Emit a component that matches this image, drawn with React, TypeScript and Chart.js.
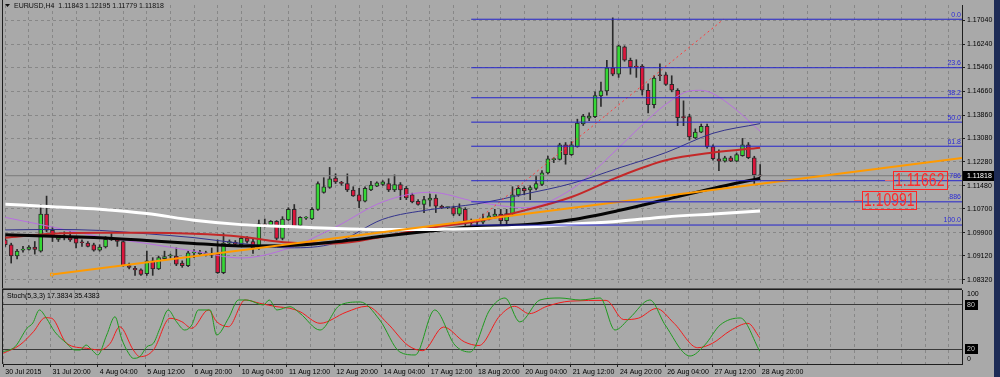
import React, { useEffect, useRef } from 'react';
import { Chart, registerables } from 'chart.js';

Chart.register(...registerables);

const FONT = '"Liberation Sans", "DejaVu Sans", sans-serif';

// ---------- price data (H4 bars, index 0 = 30 Jul 12:00) ----------
const candleOpen = [
  1.09661, 1.09498, 1.09118, 1.09313, 1.09336, 1.09421, 1.09281, 1.10525, 1.09986, 1.09680,
  1.09768, 1.09768, 1.09714, 1.09573, 1.09550, 1.09498, 1.09313, 1.09421, 1.09661, 1.09661,
  1.09606, 1.08793, 1.08706, 1.08653, 1.08523, 1.08956, 1.08686, 1.09031, 1.09118, 1.09118,
  1.08881, 1.08793, 1.09225, 1.09193, 1.09150, 1.09203, 1.09203, 1.08556, 1.09550, 1.09583,
  1.09498, 1.09714, 1.09606, 1.09388, 1.10200, 1.10168, 1.10288, 1.09714, 1.10330, 1.10688,
  1.10148, 1.10395, 1.10363, 1.10688, 1.11253, 1.11426, 1.11741, 1.11566, 1.11556, 1.11338,
  1.11175, 1.10961, 1.11338, 1.11468, 1.11523, 1.11556, 1.11338, 1.11523, 1.11393, 1.11175,
  1.10961, 1.10850, 1.10993, 1.11068, 1.10785, 1.10743, 1.10743, 1.10525, 1.10688, 1.10256,
  1.10256, 1.10256, 1.10363, 1.10450, 1.10525, 1.10311, 1.10525, 1.11175, 1.11393, 1.11338,
  1.11393, 1.11523, 1.11913, 1.12360, 1.12368, 1.12855, 1.12530, 1.12798, 1.13557, 1.13752,
  1.13804, 1.14499, 1.14671, 1.15450, 1.15232, 1.16154, 1.15700, 1.15504, 1.15504, 1.14693,
  1.14206, 1.15212, 1.15212, 1.14888, 1.14693, 1.13793, 1.13804, 1.13090, 1.13285, 1.13480,
  1.12798, 1.12388, 1.12310, 1.12420, 1.12310, 1.12495, 1.12855, 1.12422, 1.11843,
];
const candleHigh = [
  1.09768, 1.09550, 1.09346, 1.09443, 1.09466, 1.09606, 1.10850, 1.11133, 1.10093, 1.09791,
  1.09931, 1.09931, 1.09768, 1.09661, 1.09606, 1.09550, 1.09498, 1.09768, 1.09875, 1.09714,
  1.09628, 1.08881, 1.08771, 1.08686, 1.09281, 1.09063, 1.09118, 1.09281, 1.09183, 1.09388,
  1.08956, 1.09281, 1.09335, 1.09313, 1.09281, 1.09388, 1.09661, 1.09875, 1.09661, 1.09638,
  1.09746, 1.09768, 1.09714, 1.10330, 1.10363, 1.10311, 1.10311, 1.10441, 1.10743, 1.10850,
  1.10441, 1.10441, 1.10743, 1.11611, 1.11751, 1.12098, 1.11881, 1.11630, 1.11881, 1.11448,
  1.11393, 1.11448, 1.11630, 1.11611, 1.11653, 1.11718, 1.11848, 1.11588, 1.11458, 1.11231,
  1.11013, 1.11123, 1.11198, 1.11175, 1.10830, 1.10775, 1.10798, 1.10873, 1.10743, 1.10363,
  1.10330, 1.10525, 1.10580, 1.10688, 1.10688, 1.10688, 1.11448, 1.11481, 1.11448, 1.11481,
  1.11825, 1.11988, 1.12476, 1.12422, 1.12911, 1.12933, 1.12965, 1.13720, 1.13882, 1.13934,
  1.14639, 1.14963, 1.15700, 1.17127, 1.16206, 1.16186, 1.15774, 1.15719, 1.15557, 1.14906,
  1.15180, 1.15580, 1.15287, 1.15180, 1.14745, 1.14336, 1.13882, 1.13395, 1.13557, 1.13557,
  1.12855, 1.12693, 1.12473, 1.12473, 1.12585, 1.13073, 1.12933, 1.12473, 1.12195,
];
const candleLow = [
  1.09443, 1.08881, 1.09021, 1.09248, 1.09313, 1.09183, 1.09248, 1.09931, 1.09606, 1.09606,
  1.09661, 1.09606, 1.09388, 1.09443, 1.09421, 1.09281, 1.09281, 1.09388, 1.09638, 1.09443,
  1.08771, 1.08686, 1.08468, 1.08468, 1.08468, 1.08468, 1.08663, 1.08988, 1.09053, 1.08793,
  1.08738, 1.08761, 1.09063, 1.09150, 1.09118, 1.09063, 1.08533, 1.08523, 1.09531, 1.09486,
  1.09476, 1.09550, 1.09206, 1.09336, 1.10093, 1.10116, 1.09661, 1.09661, 1.10311, 1.10070,
  1.10116, 1.10353, 1.10343, 1.10655, 1.11231, 1.11393, 1.11556, 1.11500, 1.11285, 1.11123,
  1.10743, 1.10938, 1.11318, 1.11448, 1.11490, 1.11285, 1.11285, 1.11013, 1.11013, 1.10906,
  1.10830, 1.10580, 1.10798, 1.10580, 1.10710, 1.10710, 1.10473, 1.10473, 1.10148, 1.10148,
  1.10148, 1.10200, 1.10330, 1.10418, 1.10148, 1.10148, 1.10473, 1.11123, 1.11175, 1.11013,
  1.11338, 1.11481, 1.11881, 1.12260, 1.12346, 1.12206, 1.12498, 1.12778, 1.13505, 1.13668,
  1.13771, 1.14151, 1.14531, 1.15180, 1.15125, 1.15667, 1.15232, 1.15125, 1.14531, 1.13933,
  1.14097, 1.15018, 1.14855, 1.14639, 1.13502, 1.13502, 1.13014, 1.13068, 1.13264, 1.12746,
  1.12343, 1.11985, 1.12278, 1.12291, 1.12291, 1.12473, 1.12390, 1.11523, 1.11779,
];
const candleClose = [
  1.09498, 1.09118, 1.09281, 1.09355, 1.09421, 1.09336, 1.10525, 1.09986, 1.09768, 1.09736,
  1.09778, 1.09661, 1.09550, 1.09565, 1.09443, 1.09313, 1.09421, 1.09680, 1.09693, 1.09606,
  1.08793, 1.08738, 1.08653, 1.08501, 1.08956, 1.08686, 1.09063, 1.09096, 1.09125, 1.08848,
  1.08793, 1.09225, 1.09230, 1.09248, 1.09225, 1.09150, 1.08556, 1.09550, 1.09606, 1.09518,
  1.09714, 1.09606, 1.09388, 1.10200, 1.10116, 1.10288, 1.09714, 1.10363, 1.10688, 1.10093,
  1.10418, 1.10400, 1.10688, 1.11556, 1.11448, 1.11718, 1.11611, 1.11561, 1.11338, 1.11143,
  1.10961, 1.11393, 1.11500, 1.11578, 1.11611, 1.11338, 1.11523, 1.11338, 1.11068, 1.10938,
  1.10850, 1.11013, 1.11068, 1.10798, 1.10743, 1.10748, 1.10525, 1.10743, 1.10288, 1.10250,
  1.10288, 1.10363, 1.10473, 1.10525, 1.10311, 1.10548, 1.11175, 1.11393, 1.11305, 1.11416,
  1.11556, 1.11913, 1.12390, 1.12368, 1.12855, 1.12530, 1.12855, 1.13590, 1.13826, 1.13826,
  1.14509, 1.14671, 1.15450, 1.15232, 1.16186, 1.15700, 1.15472, 1.15472, 1.14693, 1.14206,
  1.15102, 1.15180, 1.14888, 1.14693, 1.13771, 1.13771, 1.13122, 1.13285, 1.13480, 1.12798,
  1.12388, 1.12310, 1.12420, 1.12310, 1.12528, 1.12855, 1.12422, 1.11843, 1.11818,
];

// moving averages: [bar index, price]
const maWhite = [
  [0, 1.10857], [8, 1.10776], [16, 1.10694], [24, 1.10548], [32, 1.1032], [40, 1.10174],
  [48, 1.10109], [56, 1.10044], [64, 1.10012], [72, 1.10012], [80, 1.10044], [88, 1.10093],
  [96, 1.1019], [104, 1.10288], [112, 1.10434], [120, 1.10532], [128, 1.10629],
];
const maBlack = [
  [0, 1.09833], [8, 1.09784], [16, 1.09736], [24, 1.09638], [32, 1.09541], [40, 1.09459],
  [48, 1.0947], [56, 1.096], [64, 1.0978], [72, 1.0996], [80, 1.1011], [88, 1.1017],
  [96, 1.10337], [104, 1.10646], [112, 1.11019], [120, 1.11393], [128, 1.11734],
];
const maRed = [
  [0, 1.09736], [8, 1.09866], [16, 1.09898], [24, 1.09898], [32, 1.09866], [40, 1.09768],
  [48, 1.09573], [56, 1.09541], [64, 1.09768], [72, 1.10061], [80, 1.10288], [88, 1.10646],
  [96, 1.11101], [104, 1.11783], [112, 1.12336], [120, 1.12596], [128, 1.12758],
];
const maNavy = [
  [0, 1.09996], [8, 1.10012], [16, 1.09979], [24, 1.09866], [32, 1.09736], [40, 1.09541],
  [48, 1.09394], [56, 1.09557], [64, 1.10353], [72, 1.10678], [80, 1.10873], [88, 1.11198],
  [96, 1.11556], [104, 1.12076], [112, 1.12596], [120, 1.13246], [128, 1.13571],
];
const maPurple = [
  [0, 1.10418], [8, 1.10093], [16, 1.09768], [24, 1.09541], [32, 1.09281], [40, 1.09053],
  [48, 1.09378], [56, 1.10093], [64, 1.10938], [72, 1.11263], [80, 1.10938], [88, 1.10743],
  [96, 1.11361], [104, 1.12758], [107.7, 1.13473], [112, 1.1422], [116.2, 1.14675],
  [117.9, 1.14691], [120, 1.14578], [123.8, 1.14058], [128, 1.1331],
];

// stochastic (5,3,3): [bar index, value]
const stochK = [
  [0, 16.6], [2, 23.4], [4, 48.2], [5, 55.4], [6.1, 73], [7.3, 61.8], [8.7, 43.6], [10.7, 28],
  [12.1, 18.9], [13, 18.9], [14, 25.7], [15, 18.9], [16, 12.2], [17.5, 39.2], [18.9, 63.9],
  [20, 34.7], [21.2, 14.5], [22, 7.7], [23.1, 9.9], [24.3, 23.4], [25.4, 28], [26.5, 48.2],
  [27.9, 73], [29.3, 57.2], [30.7, 45.9], [31.9, 52.7], [33, 73], [35, 73], [36.1, 39.2],
  [38.1, 61.8], [39.8, 86.5], [41.2, 86.5], [44, 79.7], [45, 86.5], [46.3, 73], [48.5, 77.4],
  [50.2, 68.5], [53.6, 45.9], [57, 79.7], [60.4, 83.8], [63.7, 59.5], [67.1, 16.2],
  [69.7, 12.2], [73, 73], [76.4, 25.7], [79, 16.2], [82.3, 73], [84.9, 89.2], [87.4, 56.8],
  [90.8, 86.5], [94.2, 89.2], [97.6, 86.5], [101, 89.2], [103.5, 45.9], [106, 62.2],
  [109.4, 86.5], [112, 52.7], [116.2, 10.8], [118.7, 25.7], [121.3, 52.7], [124.7, 62.2],
  [128, 17.38],
];
const stochD = [
  [0, 14.5], [2.8, 25.7], [5.1, 43.6], [7.1, 62.6], [8.2, 61.8], [10.7, 28], [14.1, 21.2],
  [16.4, 18.9], [18.1, 28], [19.7, 50.4], [22, 18.9], [23.1, 9.9], [25.4, 18.9], [28.2, 61.8],
  [30.2, 57.2], [31.9, 48.2], [34.7, 73], [36.1, 57.2], [38.1, 50.4], [40.9, 86.5], [43.4, 82],
  [46.3, 77.4], [48.5, 75.3], [50.2, 70.7], [53.6, 55], [58, 70], [61.5, 78], [65, 55],
  [68.5, 25], [71, 18], [74.5, 50], [78, 30], [80.5, 25], [84, 65], [86.5, 78], [89, 68],
  [92, 78], [96, 85], [102, 86], [105, 60], [107.5, 62], [110.5, 75], [113.5, 55],
  [117.5, 22], [120, 28], [123, 45], [126, 55], [128, 35.44],
];
const stochLevels = [20, 80];

// axes
const timeLabelBars = [0, 8, 16, 24, 32, 40, 48, 56, 64, 72, 80, 88, 96, 104, 112, 120, 128];
const timeLabels = [
  '30 Jul 2015', '31 Jul 20:00', '4 Aug 04:00', '5 Aug 12:00', '6 Aug 20:00', '10 Aug 04:00',
  '11 Aug 12:00', '12 Aug 20:00', '14 Aug 04:00', '17 Aug 12:00', '18 Aug 20:00', '20 Aug 04:00',
  '21 Aug 12:00', '24 Aug 20:00', '26 Aug 04:00', '27 Aug 12:00', '28 Aug 20:00',
];
const gridBars = Array.from({ length: 41 }, (_, k) => k * 4);
const priceTicks = [1.1704, 1.1624, 1.1546, 1.1466, 1.1386, 1.1308, 1.1228, 1.1148, 1.107, 1.099, 1.0912, 1.0832];

// objects
const fibLevels = [1.1708, 1.1545, 1.1444, 1.1362, 1.1281, 1.1165, 1.1094, 1.1016];
const fibNames = ['0.0', '23.6', '38.2', '50.0', '61.8', '786', '886', '100.0'];
const fibStartBar = 79;
const fibTrend = [[79, 1.1016], [121.8, 1.1708]];
const orangeTrend = [[7.9, 1.08494], [162.2, 1.12415]];
const bidPrice = 1.11818;
const noteTexts = ['1.11662', '1.10991'];
const notePrices = [1.11662, 1.10991];
const noteBars = [150.5, 145.3];
const titleText = 'EURUSD,H4  1.11843 1.12195 1.11779 1.11818';
const stochTitle = 'Stoch(5,3,3) 17.3834 35.4383';

// layout constants
const X_MIN = -0.05;
const X_MAX = 162.22;
const Y_MIN = 1.08211;
const Y_MAX = 1.17559;
const BG = '#a9a9a9';
const GRID = '#878787';
const AXIS = '#1e1e1e';

const pts = (arr: number[][]) => arr.map(([x, y]) => ({ x, y }));

const mainOverlay = {
  id: 'mainOverlay',
  afterDraw(chart: any) {
    const { ctx, chartArea, scales } = chart;
    const y = scales.y;
    const x = scales.x;
    ctx.save();
    ctx.fillStyle = AXIS;
    ctx.fillRect(2, 0, 1, chart.height);
    // title
    ctx.beginPath();
    ctx.moveTo(5, 4);
    ctx.lineTo(10, 4);
    ctx.lineTo(7.5, 7);
    ctx.closePath();
    ctx.fillStyle = '#111';
    ctx.fill();
    ctx.font = `7px ${FONT}`;
    ctx.textBaseline = 'middle';
    ctx.textAlign = 'left';
    ctx.fillText(titleText, 14, 6);
    // fib labels
    ctx.fillStyle = '#2b2bd6';
    ctx.textAlign = 'right';
    ctx.textBaseline = 'bottom';
    fibLevels.forEach((v, k) => {
      ctx.fillText(fibNames[k], chartArea.right - 1, y.getPixelForValue(v) - 1);
    });
    // notes
    notePrices.forEach((p, k) => {
      const py = Math.round(y.getPixelForValue(p));
      const bx = Math.round(x.getPixelForValue(noteBars[k]));
      ctx.strokeStyle = '#e06a6a';
      ctx.lineWidth = 1;
      ctx.beginPath();
      ctx.moveTo(bx - 8, py + 0.5);
      ctx.lineTo(bx, py + 0.5);
      ctx.stroke();
      ctx.strokeStyle = '#ff2424';
      ctx.strokeRect(bx + 0.5, py - 9 + 0.5, 54, 18);
      ctx.save();
      ctx.translate(bx + 2, py + 1);
      ctx.scale(0.775, 1);
      ctx.font = `18px ${FONT}`;
      ctx.fillStyle = '#ff2a2a';
      ctx.textAlign = 'left';
      ctx.textBaseline = 'middle';
      ctx.fillText(noteTexts[k], 0, 0);
      ctx.restore();
    });
    // bid label
    const by = Math.round(y.getPixelForValue(bidPrice));
    ctx.fillStyle = '#000';
    ctx.fillRect(chartArea.right + 1, by - 5, 31, 10);
    ctx.fillStyle = '#fff';
    ctx.font = `7px ${FONT}`;
    ctx.textAlign = 'left';
    ctx.textBaseline = 'middle';
    ctx.fillText(bidPrice.toFixed(5), chartArea.right + 5, by);
    ctx.restore();
  },
};

const stochOverlay = {
  id: 'stochOverlay',
  afterDraw(chart: any) {
    const { ctx, chartArea, scales } = chart;
    const y = scales.y;
    ctx.save();
    ctx.fillStyle = AXIS;
    ctx.fillRect(2, 0, 1, chartArea.bottom);
    ctx.fillRect(2, chartArea.top - 1, chartArea.right - 2, 1);
    ctx.fillStyle = '#5a5a5a';
    ctx.fillRect(2, 0, chartArea.right - 2, 1);
    ctx.font = `7px ${FONT}`;
    ctx.fillStyle = '#000';
    ctx.textBaseline = 'middle';
    ctx.textAlign = 'left';
    ctx.fillText(stochTitle, 7, chartArea.top + 6);
    const lx = chartArea.right + 5;
    ctx.fillText('100', lx, y.getPixelForValue(100) + 4);
    ctx.fillText('0', lx, y.getPixelForValue(0) - 5);
    stochLevels.forEach((v) => {
      const py = Math.round(y.getPixelForValue(v));
      ctx.fillStyle = '#000';
      ctx.fillRect(lx - 2, py - 5, 13, 10);
      ctx.fillStyle = '#c8c8c8';
      ctx.fillText(String(v), lx, py);
    });
    ctx.restore();
  },
};

const xScaleBase = (showLabels: boolean) => ({
  type: 'linear',
  min: X_MIN,
  max: X_MAX,
  offset: false,
  afterBuildTicks: (s: any) => {
    s.ticks = gridBars.map((v) => ({ value: v }));
  },
  afterFit: (s: any) => {
    s.height = showLabels ? 13 : 0;
    s.paddingLeft = 0;
    s.paddingRight = 0;
  },
  ticks: {
    display: showLabels,
    autoSkip: false,
    maxRotation: 0,
    minRotation: 0,
    align: 'start',
    labelOffset: 2,
    padding: 1,
    color: '#000',
    font: { family: FONT, size: 7 },
    callback: (v: number) => {
      const k = timeLabelBars.indexOf(v);
      return k >= 0 ? timeLabels[k] : '';
    },
  },
  grid: {
    offset: false,
    color: GRID,
    lineWidth: 1,
    drawTicks: showLabels,
    tickLength: 3,
    tickColor: (c: any) => (timeLabelBars.includes(c.tick?.value) ? AXIS : 'rgba(0,0,0,0)'),
  },
  border: { display: showLabels, color: AXIS, dash: [3, 3] },
});

export default function App() {
  const mainRef = useRef<HTMLCanvasElement>(null);
  const stochRef = useRef<HTMLCanvasElement>(null);

  useEffect(() => {
    document.body.style.margin = '0';
    const bars = candleOpen.map((_, i) => i);
    const bodyColor = bars.map((i) => (candleClose[i] >= candleOpen[i] ? '#35d835' : '#dc163c'));

    const lineDs = (data: any[], color: string, width: number, order: number, extra: any = {}) => ({
      type: 'line',
      data,
      borderColor: color,
      backgroundColor: color,
      borderWidth: width,
      pointRadius: 0,
      tension: 0.35,
      cubicInterpolationMode: 'monotone',
      fill: false,
      order,
      ...extra,
    });

    const fibData: any[] = [];
    fibLevels.forEach((v) => {
      fibData.push({ x: fibStartBar, y: v }, { x: X_MAX, y: v }, { x: X_MAX, y: null });
    });

    const main = new Chart(mainRef.current as HTMLCanvasElement, {
      type: 'bar',
      data: {
        datasets: [
          lineDs(fibData, '#2424cc', 1, 1, { tension: 0, spanGaps: false }),
          lineDs(pts(fibTrend), '#ff3a3a', 1, 2, { tension: 0, borderDash: [2, 3] }),
          lineDs(pts(orangeTrend), '#ff9a00', 2, 3, {
            tension: 0,
            pointRadius: [2, 0],
            pointStyle: 'rect',
            pointBorderColor: '#ff9a00',
            pointBackgroundColor: BG,
            pointBorderWidth: 1,
          }),
          lineDs(pts(maWhite), '#ffffff', 3, 4),
          lineDs(pts(maBlack), '#050505', 3, 5),
          lineDs(pts(maRed), '#c42828', 2, 6),
          lineDs(pts(maNavy), '#33338c', 1, 7),
          lineDs(pts(maPurple), '#b86ee0', 1, 8),
          lineDs([{ x: X_MIN, y: bidPrice }, { x: X_MAX, y: bidPrice }], '#7a7a7a', 1, 9, { tension: 0 }),
          {
            type: 'bar',
            data: bars.map((i) => ({ x: i, y: [candleOpen[i], candleClose[i]] })),
            backgroundColor: bodyColor,
            borderColor: '#2a2a2a',
            borderWidth: 1,
            borderSkipped: false,
            barThickness: 4,
            minBarLength: 1,
            grouped: false,
            order: 10,
          },
          {
            type: 'bar',
            data: bars.map((i) => ({ x: i, y: [candleLow[i], candleHigh[i]] })),
            backgroundColor: '#2a2a2a',
            borderWidth: 0,
            barThickness: 1,
            grouped: false,
            order: 11,
          },
        ] as any,
      },
      options: {
        animation: false,
        responsive: false,
        devicePixelRatio: 1,
        events: [],
        layout: { padding: { left: 3, right: 0, top: 0, bottom: 0 } },
        plugins: { legend: { display: false }, tooltip: { enabled: false }, title: { display: false } },
        scales: {
          x: xScaleBase(false) as any,
          y: {
            type: 'linear',
            position: 'right',
            min: Y_MIN,
            max: Y_MAX,
            afterBuildTicks: (s: any) => {
              s.ticks = priceTicks.map((v) => ({ value: v }));
            },
            afterFit: (s: any) => {
              s.width = 38;
              s.paddingTop = 0;
              s.paddingBottom = 0;
            },
            ticks: {
              autoSkip: false,
              padding: 2,
              color: '#000',
              font: { family: FONT, size: 7 },
              callback: (v: number) => Number(v).toFixed(5),
            },
            grid: { color: GRID, lineWidth: 1, drawTicks: true, tickLength: 3, tickColor: AXIS },
            border: { display: true, color: AXIS, dash: [3, 3] },
          } as any,
        },
      },
      plugins: [mainOverlay],
    });

    const stoch = new Chart(stochRef.current as HTMLCanvasElement, {
      type: 'line',
      data: {
        datasets: [
          lineDs(pts(stochD), '#f21c1c', 1, 2, { tension: 0.2 }),
          lineDs(pts(stochK), '#1f9a1f', 1, 1, { tension: 0.2 }),
        ] as any,
      },
      options: {
        animation: false,
        responsive: false,
        devicePixelRatio: 1,
        events: [],
        layout: { padding: { left: 3, right: 0, top: 2, bottom: 0 } },
        plugins: { legend: { display: false }, tooltip: { enabled: false }, title: { display: false } },
        scales: {
          x: xScaleBase(true) as any,
          y: {
            type: 'linear',
            position: 'right',
            min: 0,
            max: 100,
            afterBuildTicks: (s: any) => {
              s.ticks = stochLevels.map((v) => ({ value: v }));
            },
            afterFit: (s: any) => {
              s.width = 38;
              s.paddingTop = 0;
              s.paddingBottom = 0;
            },
            ticks: { display: false },
            grid: { color: '#3a3a3a', lineWidth: 1, drawTicks: false },
            border: { display: true, color: AXIS },
          } as any,
        },
      },
      plugins: [stochOverlay],
    });

    return () => {
      main.destroy();
      stoch.destroy();
    };
  }, []);

  return (
    <div style={{ position: 'relative', width: 1000, height: 377, background: BG, overflow: 'hidden' }}>
      <canvas ref={mainRef} width={1000} height={288} style={{ position: 'absolute', left: 0, top: 0, width: 1000, height: 288 }} />
      <canvas ref={stochRef} width={1000} height={89} style={{ position: 'absolute', left: 0, top: 288, width: 1000, height: 89 }} />
      <div style={{ position: 'absolute', left: 994, top: 0, width: 6, height: 377, background: '#1d2b56' }} />
    </div>
  );
}
